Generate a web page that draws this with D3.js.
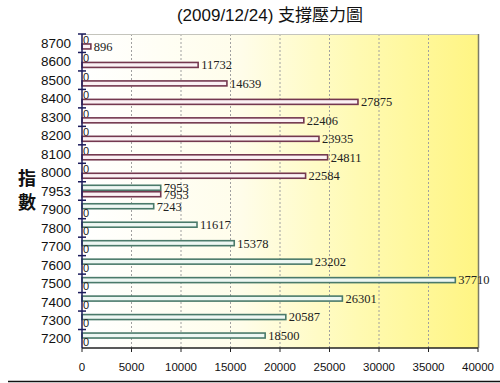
<!DOCTYPE html>
<html>
<head>
<meta charset="utf-8">
<script src="https://cdn.jsdelivr.net/npm/d3@7"></script>
<style>
    body { margin: 0; background: #fff; }
    svg { display: block; }
</style>
</head>
<body>
<div class="chart-container"></div>
<script>
// price levels, top to bottom
var categories = ["8700", "8600", "8500", "8400", "8300", "8200", "8100", "8000", "7953",
    "7900", "7800", "7700", "7600", "7500", "7400", "7300", "7200"];
// support (green) and pressure (maroon) volumes per level
var support = [0, 0, 0, 0, 0, 0, 0, 0, 7953, 7243, 11617, 15378, 23202, 37710, 26301, 20587, 18500];
var pressure = [896, 11732, 14639, 27875, 22406, 23935, 24811, 22584, 7953, 0, 0, 0, 0, 0, 0, 0, 0];
var xTicks = [0, 5000, 10000, 15000, 20000, 25000, 30000, 35000, 40000];
var seriesNames = ["support", "pressure"];

var width = 500, height = 383;
// note: "top" is taken by window.top, so use plot* names
var plotLeft = 82, plotRight = 478, plotTop = 34, plotBottom = 348;

var svg = d3.select(".chart-container")
        .append("svg")
        .attr("width", width)
        .attr("height", height);

var grad = svg.append("defs")
        .append("linearGradient")
        .attr("id", "bg")
        .attr("x1", "0%").attr("x2", "100%")
        .attr("y1", "0%").attr("y2", "0%");
grad.append("stop").attr("offset", "0%").attr("stop-color", "#ffffff");
grad.append("stop").attr("offset", "40%").attr("stop-color", "#fffdea");
grad.append("stop").attr("offset", "70%").attr("stop-color", "#fffab2");
grad.append("stop").attr("offset", "100%").attr("stop-color", "#fff583");

var x = d3.scaleLinear()
        .domain([0, 40000])
        .range([plotLeft, plotRight]);

var y = d3.scaleBand()
        .domain(categories)
        .range([plotTop, plotBottom])
        .paddingInner(0.3)
        .paddingOuter(0.15);

var ySub = d3.scaleBand()
        .domain(seriesNames)
        .range([0, y.bandwidth()]);

var colors = {
    support: {stroke: "#4a7a6a", fill: "#eef7f3"},
    pressure: {stroke: "#74384f", fill: "#fbf1f4"}
};

// plot area
svg.append("rect")
        .attr("x", plotLeft)
        .attr("y", plotTop)
        .attr("width", plotRight - plotLeft)
        .attr("height", plotBottom - plotTop)
        .attr("fill", "url(#bg)");

// grid lines
svg.selectAll(".grid")
        .data(xTicks.slice(1, -1))
        .enter()
        .append("line")
        .attr("class", "grid")
        .attr("x1", function (d) { return x(d); })
        .attr("x2", function (d) { return x(d); })
        .attr("y1", plotTop)
        .attr("y2", plotBottom)
        .attr("stroke", "#a0a0a0")
        .attr("stroke-width", 1)
        .attr("stroke-dasharray", "2,2");

// border top / right
svg.append("line")
        .attr("x1", plotLeft).attr("x2", plotRight)
        .attr("y1", plotTop + 0.5).attr("y2", plotTop + 0.5)
        .attr("stroke", "#c4c4bc");
svg.append("line")
        .attr("x1", plotRight + 0.5).attr("x2", plotRight + 0.5)
        .attr("y1", plotTop).attr("y2", plotBottom)
        .attr("stroke", "#7c7c68")
        .attr("stroke-width", 1.5);

var rows = categories.map(function (c, i) {
    return {cat: c, support: support[i], pressure: pressure[i]};
});

var group = svg.selectAll(".row")
        .data(rows)
        .enter()
        .append("g")
        .attr("class", "row")
        .attr("transform", function (d) {
            return "translate(0," + y(d.cat) + ")";
        });

seriesNames.forEach(function (s) {
    group.filter(function (d) { return d[s] > 0; })
            .append("rect")
            .attr("x", x(0))
            .attr("y", ySub(s) + 0.75)
            .attr("width", function (d) { return x(d[s]) - x(0); })
            .attr("height", ySub.bandwidth() - 1.5)
            .attr("fill", colors[s].fill)
            .attr("stroke", colors[s].stroke)
            .attr("stroke-width", 1.6);

    group.append("text")
            .attr("x", function (d) {
                return d[s] > 0 ? x(d[s]) + 3 : x(0) + 1;
            })
            .attr("y", ySub(s) + ySub.bandwidth() / 2)
            .attr("dy", "0.35em")
            .attr("font-family", function (d) {
                return d[s] > 0 ? "Liberation Serif" : "Liberation Sans";
            })
            .attr("font-size", function (d) {
                return d[s] > 0 ? 12.5 : 11;
            })
            .attr("fill", "#222")
            .text(function (d) { return d[s]; });
});

// y axis
svg.append("line")
        .attr("x1", plotLeft).attr("x2", plotLeft)
        .attr("y1", plotTop).attr("y2", plotBottom)
        .attr("stroke", "#1c1c5c")
        .attr("stroke-width", 1.5);

svg.selectAll(".ytick")
        .data(categories)
        .enter()
        .append("line")
        .attr("class", "ytick")
        .attr("x1", plotLeft - 4)
        .attr("x2", plotLeft + 4)
        .attr("y1", function (d) { return y(d) - y.step() * y.paddingOuter(); })
        .attr("y2", function (d) { return y(d) - y.step() * y.paddingOuter(); })
        .attr("stroke", "#1c1c5c")
        .attr("stroke-width", 1.5);

svg.selectAll(".ylabel")
        .data(categories)
        .enter()
        .append("text")
        .attr("class", "ylabel")
        .attr("x", 71)
        .attr("y", function (d) { return y(d) + y.bandwidth() / 2; })
        .attr("dy", "0.35em")
        .attr("text-anchor", "end")
        .attr("font-family", "Liberation Sans")
        .attr("font-size", 13.5)
        .attr("fill", "#111")
        .text(function (d) { return d; });

// x axis
svg.append("line")
        .attr("x1", plotLeft).attr("x2", plotRight)
        .attr("y1", plotBottom).attr("y2", plotBottom)
        .attr("stroke", "#222")
        .attr("stroke-width", 1.5);

svg.selectAll(".xtick")
        .data(xTicks)
        .enter()
        .append("line")
        .attr("class", "xtick")
        .attr("x1", function (d) { return x(d); })
        .attr("x2", function (d) { return x(d); })
        .attr("y1", plotBottom)
        .attr("y2", plotBottom + 4)
        .attr("stroke", "#222");

svg.selectAll(".xlabel")
        .data(xTicks)
        .enter()
        .append("text")
        .attr("class", "xlabel")
        .attr("x", function (d) { return x(d); })
        .attr("y", 371)
        .attr("text-anchor", "middle")
        .attr("font-family", "Liberation Sans")
        .attr("font-size", 11.5)
        .attr("fill", "#111")
        .text(function (d) { return d; });

// title
svg.append("text")
        .attr("x", 270)
        .attr("y", 21)
        .attr("text-anchor", "middle")
        .attr("font-family", "Liberation Sans, Noto Sans CJK TC")
        .attr("font-size", 17)
        .attr("fill", "#111")
        .text("(2009/12/24) 支撐壓力圖");

// y axis title
svg.selectAll(".ytitle")
        .data(["指", "數"])
        .enter()
        .append("text")
        .attr("class", "ytitle")
        .attr("x", 27)
        .attr("y", function (d, i) { return 185 + i * 24; })
        .attr("text-anchor", "middle")
        .attr("font-family", "Noto Sans CJK TC")
        .attr("font-weight", "bold")
        .attr("font-size", 18)
        .attr("fill", "#111")
        .text(function (d) { return d; });

// bottom frame line
svg.append("line")
        .attr("x1", 8).attr("x2", width)
        .attr("y1", 381.5).attr("y2", 381.5)
        .attr("stroke", "#111")
        .attr("stroke-width", 1.5);
</script>
</body>
</html>
